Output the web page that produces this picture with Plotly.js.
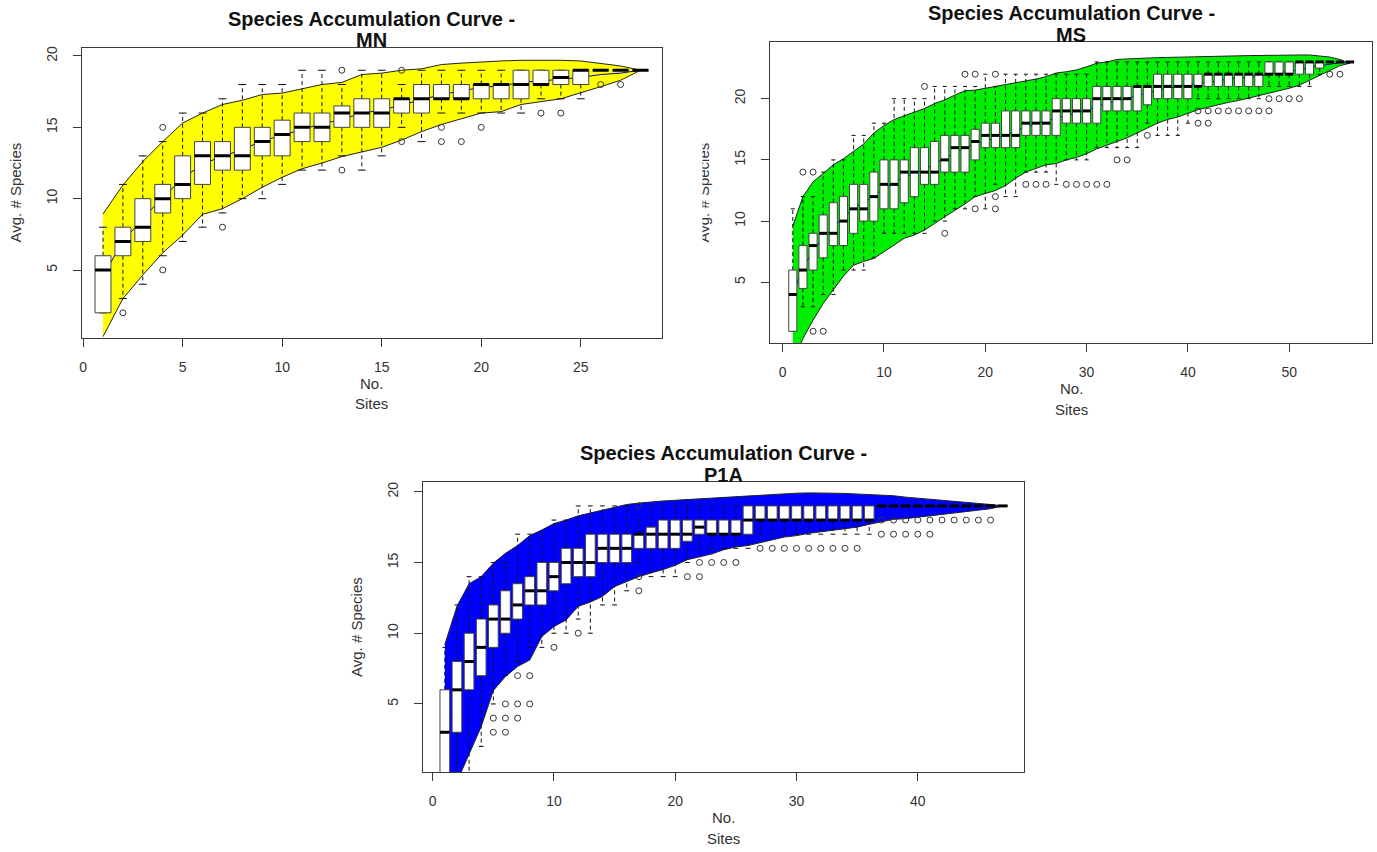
<!DOCTYPE html>
<html><head><meta charset="utf-8">
<script src="https://cdn.plot.ly/plotly-3.0.1.min.js"></script>
<style>html,body{margin:0;padding:0;background:#fff}#chart{width:1377px;height:852px}</style>
</head><body><div id="chart"></div>
<script>
// ---------------- MN ----------------
const mnSites = [1,2,3,4,5,6,7,8,9,10,11,12,13,14,15,16,17,18,19,20,21,22,23,24,25,26,27,28];
const mnUpper = [8.93,10.96,12.6,14.0,15.3,16.0,16.6,16.9,17.3,17.4,17.7,18.0,18.15,18.7,18.8,19.0,19.1,19.4,19.5,19.6,19.65,19.7,19.72,19.7,19.65,19.5,19.3,19.0];
const mnLower = [0.33,3.0,4.65,6.2,7.45,8.9,9.3,10.0,10.8,11.5,12.1,12.5,12.95,13.3,13.6,14.1,14.7,15.2,15.6,16.0,16.1,16.6,16.8,17.0,17.4,17.85,18.3,19.0];
const mnMean  = [4.6,7.0,8.6,10.1,11.4,12.45,12.95,13.45,14.05,14.45,14.9,15.25,15.55,16.0,16.2,16.55,16.9,17.3,17.55,17.8,17.9,18.15,18.25,18.35,18.5,18.7,18.8,19.0];
const mnQ1  = [2,6,7,9,10,11,12,12,13,13,14,14,15,15,15,16,16,17,17,17,17,17,18,18,18,19,19,19];
const mnMed = [5,7,8,10,11,13,13,13,14,14.5,15,15,16,16,16,17,17,17,17,18,18,18,18,18.5,19,19,19,19];
const mnQ3  = [6,8,10,11,13,14,14,15,15,15.5,16,16,16.5,17,17,17,18,18,18,18,18,19,19,19,19,19,19,19];
const mnLo  = [2,3,4,6,7,8,9,10,10,11,12,12,13,12,13,15,14,16,16,16,16,16,17,17,17,19,19,19];
const mnHi  = [8,11,13,14,16,16,17,18,18,18,19,19,18,19,19,18,19,19,19,19,19,19,19,19,19,19,19,19];
const mnOutX = [2,4,4,7,13,13,16,16,18,18,19,20,23,24,26,27];
const mnOutY = [2,15,5,8,19,12,19,14,15,14,14,15,16,16,18,18];

// ---------------- MS ----------------
const msSites = [1,2,3,4,5,6,7,8,9,10,11,12,13,14,15,16,17,18,19,20,21,22,23,24,25,26,27,28,29,30,31,32,33,34,35,36,37,38,39,40,41,42,43,44,45,46,47,48,49,50,51,52,53,54,55,56];
const msUpper = [9.6,12.0,13.2,13.9,14.6,15.1,15.7,16.3,17.2,17.8,18.3,18.6,18.9,19.2,19.6,19.9,20.3,20.65,20.7,20.85,21.0,21.1,21.25,21.4,21.6,21.8,22.1,22.2,22.35,22.6,22.9,23.0,23.2,23.25,23.3,23.32,23.35,23.37,23.38,23.4,23.42,23.44,23.46,23.48,23.5,23.52,23.54,23.55,23.57,23.57,23.57,23.57,23.5,23.4,23.2,22.9];
const msLower = [-1.5,0.4,1.9,3.27,4.36,5.5,6.4,6.7,6.95,7.5,8.04,8.6,8.86,9.26,9.8,10.35,10.9,11.4,12.0,12.26,12.5,12.9,13.5,14.0,14.3,14.6,14.7,15.0,15.2,15.5,15.9,16.2,16.5,16.8,17.2,17.6,18.0,18.3,18.5,18.8,19.1,19.3,19.5,19.7,19.85,20.0,20.2,20.4,20.65,20.85,21.1,21.5,21.9,22.3,22.7,22.9];
const msMean  = [4.0,6.2,7.55,8.6,9.5,10.3,11.05,11.5,12.1,12.65,13.2,13.6,13.9,14.2,14.7,15.1,15.6,16.0,16.35,16.55,16.75,17.0,17.4,17.7,17.95,18.2,18.4,18.6,18.8,19.05,19.4,19.6,19.85,20.0,20.25,20.45,20.7,20.85,20.95,21.1,21.25,21.35,21.5,21.6,21.7,21.75,21.85,22.0,22.1,22.2,22.35,22.55,22.7,22.85,22.95,22.9];
const msQ1  = [1,4.5,6,7,8,8,9,10,10,11,11,11.5,12,13,13,14,14,14,15,16,16,16,16,17,17,17,17,18,18,18,18,19,19,19,19,19.5,20,20,20,20,21,21,21,21,21,21,21,22,22,22,22,22,22.5,23,23,23];
const msMed = [4,6,8,9,9,10,11,11,12,13,13,14,14,14,14,15,16,16,16.5,17,17,17,17,18,18,18,19,19,19,19,20,20,20,20,21,21,21,21,21,21,21,22,22,22,22,22,22,22,22,22,23,23,23,23,23,23];
const msQ3  = [6,8,9,10.5,11.5,12,13,13,14,15,15,15,16,16,16.5,17,17,17,17.5,18,18,19,19,19,19,19,20,20,20,20,21,21,21,21,21,21,22,22,22,22,22,22,22,22,22,22,22,23,23,23,23,23,23,23,23,23];
const msLo  = [1,3,3,4,4,6,6,6,7,9,9,9,9,9,10,10,11,11,12,11,13,12,12,14,14,14,13,15,15,15,16,16,16,16,16,18,17,17,17,18,20,20,20,20,20,20,20,21,21,21,21,21,22,23,23,23];
const msHi  = [11,12,12,14,15,15,17,17,18,18,20,20,20,20,21,21,21,21,21,22,21,22,22,22,22,22,22,22,22,22,23,23,23,23,23,23,23,23,23,23,23,23,23,23,23,23,23,23,23,23,23,23,23,23,23,23];
const msOutX = [2,3,3,4,14,16,18,19,19,21,21,21,24,25,26,28,29,30,31,32,33,34,36,41,42,43,44,45,46,47,48,41,42,48,49,50,51,54,55];
const msOutY = [14,14,1,1,21,9,22,22,11,22,12,11,13,13,13,13,13,13,13,13,15,15,17,19,19,19,19,19,19,19,19,18,18,20,20,20,20,22,22];

// ---------------- P1A ----------------
const p1Sites = [1,2,3,4,5,6,7,8,9,10,11,12,13,14,15,16,17,18,19,20,21,22,23,24,25,26,27,28,29,30,31,32,33,34,35,36,37,38,39,40,41,42,43,44,45,46,47];
const p1Upper = [9.2,11.9,13.5,14.0,14.95,15.65,16.2,16.9,17.3,17.75,18.0,18.3,18.5,18.7,18.9,19.1,19.2,19.3,19.35,19.4,19.45,19.5,19.6,19.65,19.7,19.72,19.75,19.8,19.85,19.9,19.92,19.93,19.9,19.88,19.85,19.82,19.8,19.72,19.62,19.55,19.45,19.38,19.3,19.25,19.18,19.1,19.0];
const p1Lower = [-4,-0.5,1.5,3.4,5.95,6.94,7.65,8.1,9.76,10.47,10.94,11.9,12.2,12.6,13.3,13.65,14.0,14.26,14.5,14.8,15.2,15.4,15.6,15.9,16.1,16.2,16.4,16.6,16.8,16.9,17.06,17.2,17.3,17.4,17.5,17.7,17.9,18.05,18.1,18.2,18.3,18.35,18.5,18.6,18.7,18.8,19.0];
const p1Mean  = [2.6,5.7,7.5,8.7,10.45,11.3,11.9,12.5,13.5,14.1,14.47,15.1,15.35,15.65,16.1,16.4,16.6,16.8,16.9,17.1,17.3,17.45,17.6,17.8,17.9,17.95,18.1,18.2,18.3,18.4,18.5,18.55,18.6,18.65,18.7,18.75,18.85,18.9,18.85,18.9,18.9,18.85,18.9,18.9,18.95,18.95,19.0];
const p1Q1  = [0,3,6,7,9,10,11,12,12,13,13.5,14,14,15,15,15,16,16,16,16,16.5,17,17,17,17,17,18,18,18,18,18,18,18,18,18,18,19,19,19,19,19,19,19,19,19,19,19];
const p1Med = [3,6,8,9,11,11,12,13,13,14,15,15,15,16,16,16,17,17,17,17,17,17.5,17,17,17,18,18,18,18,18,18,18,18,18,18,18,19,19,19,19,19,19,19,19,19,19,19];
const p1Q3  = [6,8,10,11,12,13,13.5,14,15,15,16,16,17,17,17,17,17,17.5,18,18,18,18,18,18,18,19,19,19,19,19,19,19,19,19,19,19,19,19,19,19,19,19,19,19,19,19,19];
const p1Lo  = [0,0,0,2,5,7,8,9,9,10,10,11,10,12,12,13,15,14,14,14,15,16,16,16,16,16,17,17,17,17,17,17,17,17,17,17,19,19,19,19,19,19,19,19,19,19,19];
const p1Hi  = [9,12,14,14,15,15,17,17,17,18,18,19,19,19,19,19,18,19,19,19,19,19,19,19,19,19,19,19,19,19,19,19,19,19,19,19,19,19,19,19,19,19,19,19,19,19,19];
const p1OutX = [5,5,6,6,6,7,7,7,8,8,10,12,17,17,17,21,22,22,23,24,25,27,28,29,30,31,32,33,34,35,37,38,39,40,41,42,43,44,45,46,37,38,39,40,41];
const p1OutY = [4,3,5,4,3,7,5,4,7,5,9,10,19,14,13,14,15,14,15,15,15,16,16,16,16,16,16,16,16,16,18,18,18,18,18,18,18,18,18,18,17,17,17,17,17];

// ---------------- drawing ----------------
const W = 1377, H = 852;
const BOX_HW = 0.4, CAP_HW = 0.2;
const EDGE = '#3a3a3a';

function panel(s, up, lw, mean, q1, med, q3, lo, hi, ox, oy, fill, xa, ya) {
  const t = [];
  const common = {xaxis: xa, yaxis: ya, hoverinfo: 'skip', showlegend: false, type: 'scatter'};
  t.push(Object.assign({}, common, {mode: 'lines',
    x: s.concat(s.slice().reverse()), y: up.concat(lw.slice().reverse()),
    fill: 'toself', fillcolor: fill, line: {color: '#222', width: 1}}));
  t.push(Object.assign({}, common, {mode: 'lines', x: s, y: mean, line: {color: '#0000cc', width: 1}}));
  const wx = [], wy = [], cx = [], cy = [], bx = [], by = [], mx = [], my = [];
  s.forEach((v, i) => {
    wx.push(v, v, null, v, v, null); wy.push(q3[i], hi[i], null, q1[i], lo[i], null);
    cx.push(v - CAP_HW, v + CAP_HW, null, v - CAP_HW, v + CAP_HW, null);
    cy.push(hi[i], hi[i], null, lo[i], lo[i], null);
    bx.push(v - BOX_HW, v + BOX_HW, v + BOX_HW, v - BOX_HW, v - BOX_HW, null);
    by.push(q1[i], q1[i], q3[i], q3[i], q1[i], null);
    mx.push(v - BOX_HW, v + BOX_HW, null); my.push(med[i], med[i], null);
  });
  t.push(Object.assign({}, common, {mode: 'lines', x: wx, y: wy, connectgaps: false, line: {color: '#111', width: 1, dash: '4px,3px'}}));
  t.push(Object.assign({}, common, {mode: 'lines', x: cx, y: cy, connectgaps: false, line: {color: '#111', width: 1}}));
  t.push(Object.assign({}, common, {mode: 'lines', x: bx, y: by, connectgaps: false, fill: 'toself', fillcolor: '#ffffff', line: {color: '#444', width: 1}}));
  t.push(Object.assign({}, common, {mode: 'lines', x: mx, y: my, connectgaps: false, line: {color: '#000', width: 3}}));
  t.push(Object.assign({}, common, {mode: 'markers', x: ox, y: oy, cliponaxis: true,
    marker: {symbol: 'circle-open', size: 6, color: '#333', line: {width: 1, color: '#333'}}}));
  return t;
}

const data = []
  .concat(panel(mnSites, mnUpper, mnLower, mnMean, mnQ1, mnMed, mnQ3, mnLo, mnHi, mnOutX, mnOutY, '#ffff00', 'x', 'y'))
  .concat(panel(msSites, msUpper, msLower, msMean, msQ1, msMed, msQ3, msLo, msHi, msOutX, msOutY, '#00ee00', 'x2', 'y2'))
  .concat(panel(p1Sites, p1Upper, p1Lower, p1Mean, p1Q1, p1Med, p1Q3, p1Lo, p1Hi, p1OutX, p1OutY, '#0000ff', 'x3', 'y3'));

const tickFont = {family: 'Liberation Sans, Arial, sans-serif', size: 14, color: '#333'};
function xAx(l, r, range, tv, anchor) {
  return {domain: [l / W, r / W], range: range, anchor: anchor, tickvals: tv, ticktext: tv.map(String),
    showline: true, mirror: true, linecolor: EDGE, linewidth: 1, ticks: 'outside', ticklen: 8, tickcolor: EDGE,
    showgrid: false, zeroline: false, tickfont: tickFont, ticklabelstandoff: 8, fixedrange: true};
}
function yAx(t, b, range, tv, anchor) {
  return {domain: [1 - b / H, 1 - t / H], range: range, anchor: anchor, tickvals: tv, ticktext: tv.map(String),
    showline: true, mirror: true, linecolor: EDGE, linewidth: 1, ticks: 'outside', ticklen: 8, tickcolor: EDGE,
    showgrid: false, zeroline: false, tickfont: tickFont, tickangle: -90, ticklabelstandoff: 10, fixedrange: true};
}

const tFont = {family: 'Liberation Sans, Arial, sans-serif', size: 20, color: '#111', weight: 'bold'};
const lFont = {family: 'Liberation Sans, Arial, sans-serif', size: 15, color: '#333'};
function ann(text, xpx, ypx, font, extra) {
  return Object.assign({text: text, xref: 'paper', yref: 'paper', x: xpx / W, y: 1 - ypx / H,
    xanchor: 'center', yanchor: 'middle', showarrow: false, font: font}, extra || {});
}
const panels = [
  {name: 'MN', l: 81.5, r: 662, t: 48, b: 338},
  {name: 'MS', l: 770, r: 1372, t: 42, b: 343},
  {name: 'P1A', l: 423, r: 1024, t: 482, b: 772}
];
const titleBase = [[26, 47], [20, 42], [460, 482]];
const annotations = [];
panels.forEach((p, i) => {
  const cx = (p.l + p.r) / 2, cy = (p.t + p.b) / 2;
  annotations.push(ann('<b>Species Accumulation Curve -</b>', cx, titleBase[i][0] - 7, tFont));
  annotations.push(ann('<b>' + p.name + '</b>', cx, titleBase[i][1] - 7, tFont));
  annotations.push(ann('No.', cx, p.b + 45, lFont));
  annotations.push(ann('Sites', cx, p.b + 66, lFont));
  annotations.push(ann('Avg. # Species', p.l - 67, cy, lFont, {textangle: -90}));
});
// the MS y label is cut off on its left side in the original
annotations.push(ann(' ', 694.5, 193, {size: 10}, {bgcolor: '#ffffff', width: 15, height: 140, borderpad: 0}));

const layout = {
  width: W, height: H, margin: {l: 0, r: 0, t: 0, b: 0},
  paper_bgcolor: '#ffffff', plot_bgcolor: '#ffffff', showlegend: false,
  xaxis: xAx(81.5, 662, [-0.08, 29.08], [0, 5, 10, 15, 20, 25], 'y'),
  yaxis: yAx(48, 338, [0.235, 20.56], [5, 10, 15, 20], 'x'),
  xaxis2: xAx(770, 1372, [-1.25, 58.17], [0, 10, 20, 30, 40, 50], 'y2'),
  yaxis2: yAx(42, 343, [0.04, 24.63], [5, 10, 15, 20], 'x2'),
  xaxis3: xAx(423, 1024, [-0.8, 48.76], [0, 10, 20, 30, 40], 'y3'),
  yaxis3: yAx(482, 772, [0.19, 20.69], [5, 10, 15, 20], 'x3'),
  annotations: annotations
};
Plotly.newPlot('chart', data, layout, {staticPlot: true, displayModeBar: false});
</script>
</body></html>
